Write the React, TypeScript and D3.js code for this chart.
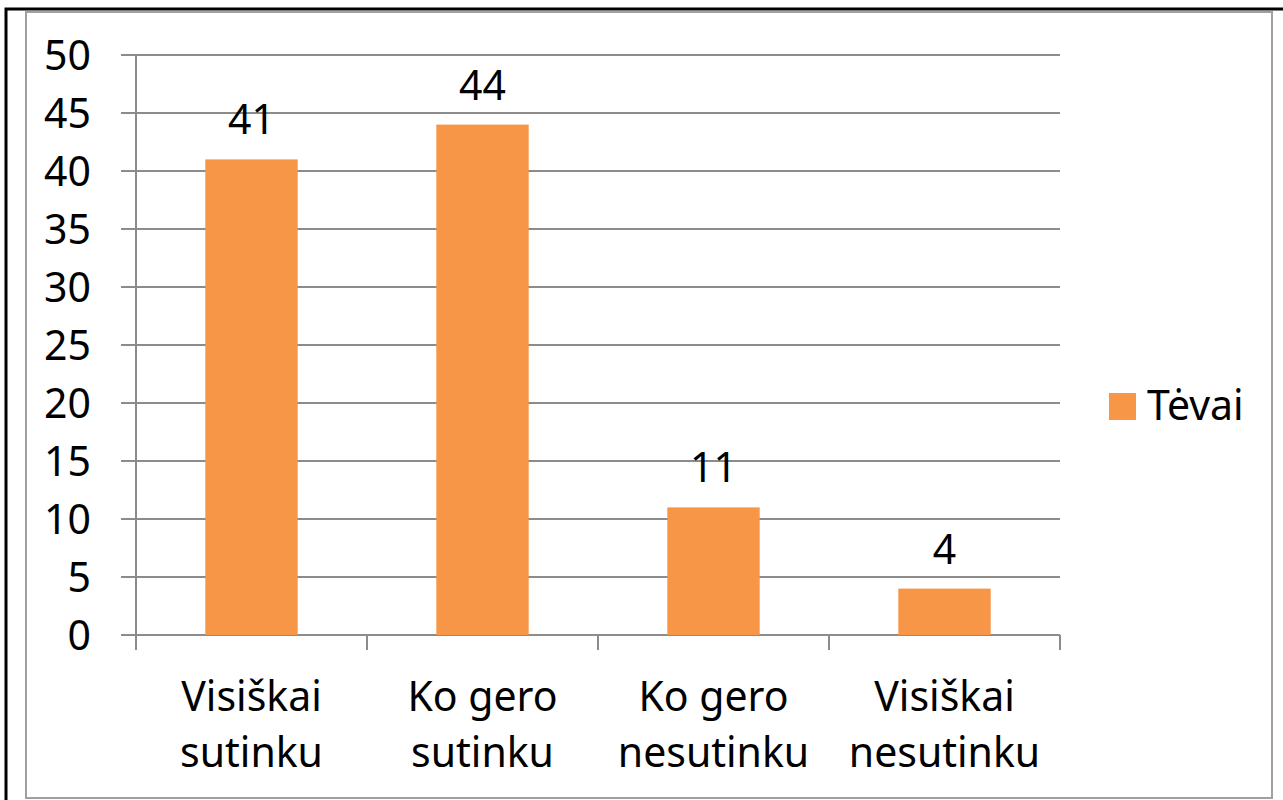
import React, { useRef, useEffect } from 'react';
import * as d3 from 'd3';

const categories: string[][] = [
    ['Visiškai', 'sutinku'],
    ['Ko gero', 'sutinku'],
    ['Ko gero', 'nesutinku'],
    ['Visiškai', 'nesutinku'],
];
const values: number[] = [41, 44, 11, 4];
const yTicks: number[] = [0, 5, 10, 15, 20, 25, 30, 35, 40, 45, 50];
const seriesName = 'Tėvai';

const W = 1283;
const H = 800;
const FONT = '"Noto Sans", "Open Sans", sans-serif';
const FS = '41px';
const ORANGE = '#F79646';
const GRID = '#8c8c8c';

const BarChart: React.FC = () => {
    const ref = useRef<SVGSVGElement | null>(null);

    useEffect(() => {
        if (!ref.current) return;
        const svg = d3.select(ref.current);
        svg.selectAll('*').remove();

        // ─── frame ──────────────────────────────────────────────
        svg.append('rect')
            .attr('x', 0).attr('y', 0).attr('width', W).attr('height', H)
            .attr('fill', '#fff');
        svg.append('rect')
            .attr('x', 26).attr('y', 12).attr('width', 1246).attr('height', 786)
            .attr('fill', 'none').attr('stroke', '#a0a0a0').attr('stroke-width', 2);
        svg.append('path')
            .attr('d', `M6,${H + 10}V9H${W + 10}`)
            .attr('fill', 'none').attr('stroke', '#000').attr('stroke-width', 3);

        // ─── scales ─────────────────────────────────────────────
        const x0 = 136, x1 = 1060;
        const y = d3.scaleLinear().domain([0, 50]).range([635, 55]);
        const x = d3.scaleBand<number>()
            .domain(values.map((_, i) => i))
            .range([x0, x1])
            .paddingInner(0.6)
            .paddingOuter(0.3);
        const step = (x1 - x0) / values.length;

        // ─── grid + y labels ────────────────────────────────────
        const g = svg.append('g');
        g.selectAll('line.grid')
            .data(yTicks)
            .enter()
            .append('line')
            .attr('x1', 121).attr('x2', x1)
            .attr('y1', d => y(d)).attr('y2', d => y(d))
            .attr('stroke', GRID).attr('stroke-width', 2);

        g.selectAll('text.ylab')
            .data(yTicks)
            .enter()
            .append('text')
            .attr('x', 91)
            .attr('y', d => y(d))
            .attr('dy', '0.36em')
            .attr('text-anchor', 'end')
            .style('font-family', FONT)
            .style('font-size', FS)
            .style('fill', '#000')
            .text(d => d);

        // y axis
        g.append('line')
            .attr('x1', x0).attr('x2', x0).attr('y1', 55).attr('y2', 650)
            .attr('stroke', GRID).attr('stroke-width', 2);

        // category ticks
        g.selectAll('line.ctick')
            .data(d3.range(values.length + 1))
            .enter()
            .append('line')
            .attr('x1', d => x0 + d * step).attr('x2', d => x0 + d * step)
            .attr('y1', 635).attr('y2', 650)
            .attr('stroke', GRID).attr('stroke-width', 2);

        // ─── bars ───────────────────────────────────────────────
        g.selectAll('rect.bar')
            .data(values)
            .enter()
            .append('rect')
            .attr('x', (_, i) => x(i)!)
            .attr('width', x.bandwidth())
            .attr('y', d => y(d))
            .attr('height', d => y(0) - y(d))
            .attr('fill', ORANGE);

        g.selectAll('text.val')
            .data(values)
            .enter()
            .append('text')
            .attr('x', (_, i) => x(i)! + x.bandwidth() / 2)
            .attr('y', d => y(d) - 25)
            .attr('text-anchor', 'middle')
            .style('font-family', FONT)
            .style('font-size', FS)
            .style('fill', '#000')
            .text(d => d);

        // ─── category labels ────────────────────────────────────
        const cat = g.selectAll('text.cat')
            .data(categories)
            .enter()
            .append('text')
            .attr('text-anchor', 'middle')
            .style('font-family', FONT)
            .style('font-size', FS)
            .style('fill', '#000');
        cat.each(function (d, i) {
            const cx = x(i)! + x.bandwidth() / 2;
            d3.select(this).selectAll('tspan')
                .data(d)
                .enter()
                .append('tspan')
                .attr('x', cx)
                .attr('y', (_, j) => 711 + j * 56)
                .text(t => t);
        });

        // ─── legend ─────────────────────────────────────────────
        svg.append('rect')
            .attr('x', 1109).attr('y', 393).attr('width', 27).attr('height', 27)
            .attr('fill', ORANGE);
        svg.append('text')
            .attr('x', 1147).attr('y', 420)
            .style('font-family', FONT)
            .style('font-size', FS)
            .style('fill', '#000')
            .text(seriesName);
    }, []);

    return <svg ref={ref} width={W} height={H} style={{ display: 'block' }} />;
};

export default function App() {
    return (
        <div style={{ position: 'absolute', left: 0, top: 0 }}>
            <BarChart />
        </div>
    );
}
